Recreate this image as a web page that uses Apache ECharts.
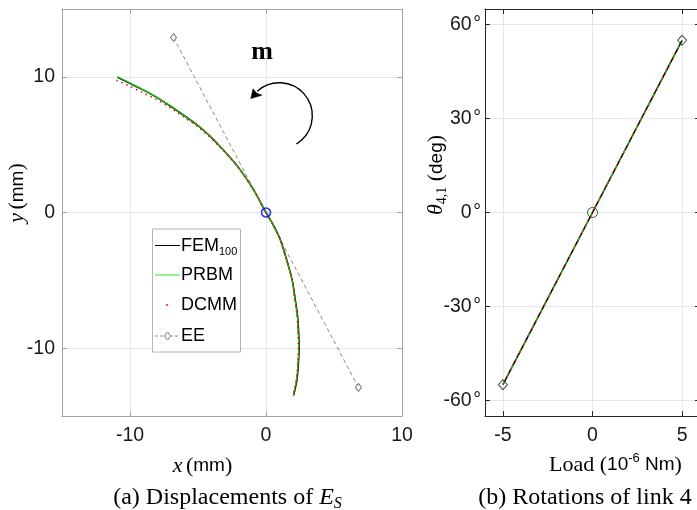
<!DOCTYPE html>
<html>
<head>
<meta charset="utf-8">
<script src="https://cdn.jsdelivr.net/npm/echarts@6/dist/echarts.min.js"></script>
<style>html,body{margin:0;padding:0;background:#fff;}#c{width:697px;height:510px;}</style>
</head>
<body>
<div id="c"></div>
<script>
// ---- Panel (a): displacements of E_S (mm) ----
const femX  = [-10.91, -10.0, -9.0, -8.0, -7.04, -6.0, -5.07, -4.2, -3.36, -2.6, -1.89, -0.91, 0, 0.55, 1.05, 1.66, 1.95, 2.15, 2.32, 2.40, 2.43, 2.40, 2.28, 2.03];
const femY  = [9.96, 9.52, 9.02, 8.47, 7.85, 7.13, 6.45, 5.70, 4.85, 4.02, 3.14, 1.67, 0, -0.95, -2.0, -3.97, -5.1, -6.42, -7.6, -8.87, -9.8, -10.83, -12.3, -13.48];
const prbmX = [-10.95, -10.0, -9.0, -8.0, -7.04, -6.0, -5.07, -4.2, -3.36, -2.6, -1.89, -0.91, 0, 0.55, 1.05, 1.65, 1.94, 2.13, 2.30, 2.37, 2.40, 2.37, 2.25, 2.0];
const prbmY = [10.02, 9.54, 9.04, 8.48, 7.86, 7.13, 6.45, 5.70, 4.85, 4.02, 3.14, 1.67, 0, -0.95, -2.0, -3.97, -5.1, -6.42, -7.6, -8.87, -9.8, -10.83, -12.3, -13.5];
const dcmmX = [-11.0, -10.0, -9.0, -8.0, -7.0, -6.0, -5.05, -4.2, -3.36, -2.6, -1.89, -0.91, 0, 0.55, 1.05, 1.66, 1.95, 2.12, 2.28, 2.36, 2.38, 2.36, 2.24, 1.98];
const dcmmY = [9.75, 9.30, 8.80, 8.30, 7.70, 7.00, 6.35, 5.62, 4.80, 3.98, 3.10, 1.65, 0, -0.95, -2.0, -3.97, -5.1, -6.42, -7.6, -8.87, -9.8, -10.83, -12.3, -13.55];
const eeX   = [-6.8, 6.8];
const eeY   = [12.9, -12.9];
const startX = [0];
const startY = [0];
const xTicksA = [-10, 0, 10];
const yTicksA = [-10, 0, 10];

// ---- Panel (b): rotations of link 4 ----
const loads     = [-5, 0, 5];
const femTheta  = [-55, 0, 55];
const prbmTheta = [-55, 0, 55];
const dcmmTheta = [-55, 0, 55];
const eeLoads   = [-5, 5];
const eeTheta   = [-55, 55];
const startLoad = [0];
const startTheta = [0];
const xTicksB = [-5, 0, 5];
const yTicksB = [-60, -30, 0, 30, 60];

const SANS = '"Liberation Sans", Arial, sans-serif';
const SERIF = '"Liberation Serif", "Times New Roman", serif';
const zip = (a, b) => a.map((v, i) => [v, b[i]]);

const leftBox = '#a3a3a3';
const rightBox = '#262626';
const gridColor = '#e6e6e6';

function xAx(grid, min, max, ticks, color, pos, labels) {
  return {
    type: 'value', gridIndex: grid, min: min, max: max, position: pos,
    axisLine: { show: true, onZero: false, lineStyle: { color: color, width: 1 } },
    axisTick: { show: true, inside: true, length: 5, customValues: ticks, lineStyle: { color: color } },
    axisLabel: { show: labels, customValues: ticks, fontSize: 19.5, fontFamily: SANS, color: '#1a1a1a', margin: 10 },
    splitLine: { show: labels, lineStyle: { color: gridColor, width: 1 } }
  };
}
function yAx(grid, min, max, ticks, color, pos, labels, fmt, margin) {
  return {
    type: 'value', gridIndex: grid, min: min, max: max, position: pos,
    axisLine: { show: true, onZero: false, lineStyle: { color: color, width: 1 } },
    axisTick: { show: true, inside: true, length: 5, customValues: ticks, lineStyle: { color: color } },
    axisLabel: { show: labels, customValues: ticks, fontSize: 19.5, fontFamily: SANS, color: '#1a1a1a', margin: margin, formatter: fmt },
    splitLine: { show: labels, lineStyle: { color: gridColor, width: 1 } }
  };
}

const serifRich = {
  i: { fontFamily: SERIF, fontStyle: 'italic', fontSize: 22, verticalAlign: 'middle', lineHeight: 26, color: '#000' },
  p: { fontFamily: SERIF, fontSize: 22, verticalAlign: 'middle', lineHeight: 26, color: '#000' },
  s: { fontFamily: SANS, fontSize: 19, verticalAlign: 'middle', lineHeight: 26, color: '#000' },
  sub: { fontFamily: SERIF, fontSize: 14, verticalAlign: 'bottom', lineHeight: 14, color: '#000' },
  sup: { fontFamily: SANS, fontSize: 13, verticalAlign: 'top', lineHeight: 13, color: '#000' }
};
const capRich = {
  p: { fontFamily: SERIF, fontSize: 24, verticalAlign: 'middle', lineHeight: 28, color: '#000' },
  i: { fontFamily: SERIF, fontStyle: 'italic', fontSize: 24, verticalAlign: 'middle', lineHeight: 28, color: '#000' },
  isub: { fontFamily: SERIF, fontStyle: 'italic', fontSize: 16, verticalAlign: 'bottom', lineHeight: 16, color: '#000' }
};

function txt(x, y, text, rich, rot) {
  return {
    type: 'text', x: x, y: y, rotation: rot || 0, z: 50,
    style: { text: text, rich: rich, align: 'center', verticalAlign: 'middle', textAlign: 'center', textVerticalAlign: 'middle', fill: '#000' }
  };
}

const legendRich = {
  n: { fontFamily: SANS, fontSize: 18, verticalAlign: 'middle', lineHeight: 22, color: '#000' },
  sub: { fontFamily: SANS, fontSize: 11, verticalAlign: 'bottom', lineHeight: 11, color: '#000' }
};
function legText(y, text) {
  return { type: 'text', x: 181, y: y, z: 101,
    style: { text: text, rich: legendRich, align: 'left', verticalAlign: 'middle', textAlign: 'left', textVerticalAlign: 'middle', fill: '#000' } };
}

const option = {
  animation: false,
  backgroundColor: '#fff',
  textStyle: { fontFamily: SANS },
  grid: [
    { left: 62, top: 9, width: 340, height: 407, outerBoundsMode: 'none', containLabel: false },
    { left: 485, top: 9, width: 215, height: 407, outerBoundsMode: 'none', containLabel: false }
  ],
  xAxis: [
    xAx(0, -15, 10, xTicksA, leftBox, 'bottom', true),
    xAx(0, -15, 10, xTicksA, leftBox, 'top', false),
    xAx(1, -6, 6, xTicksB, rightBox, 'bottom', true),
    xAx(1, -6, 6, xTicksB, rightBox, 'top', false)
  ],
  yAxis: [
    yAx(0, -15, 15, yTicksA, leftBox, 'left', true, '{value}', 7),
    yAx(0, -15, 15, yTicksA, leftBox, 'right', false, '{value}', 7),
    yAx(1, -65, 65, yTicksB, rightBox, 'left', true, v => v + '\u200a°', 4),
    yAx(1, -65, 65, yTicksB, rightBox, 'right', false, '{value}', 4)
  ],
  series: [
    // panel (a)
    { name: 'EE', type: 'line', xAxisIndex: 0, yAxisIndex: 0, data: zip(eeX, eeY),
      symbol: 'diamond', symbolSize: [6, 8], showSymbol: true,
      lineStyle: { color: '#8a8a8a', width: 1, type: [4, 3] },
      itemStyle: { color: '#fff', borderColor: '#7a7a7a', borderWidth: 1 }, z: 2 },
    { name: 'FEM100', type: 'line', xAxisIndex: 0, yAxisIndex: 0, data: zip(femX, femY),
      symbol: 'none', smooth: 0.3, lineStyle: { color: '#000', width: 1.6 }, z: 3 },
    { name: 'PRBM', type: 'line', xAxisIndex: 0, yAxisIndex: 0, data: zip(prbmX, prbmY),
      symbol: 'none', smooth: 0.3, lineStyle: { color: '#14c814', width: 1.2 }, z: 4 },
    { name: 'DCMM', type: 'line', xAxisIndex: 0, yAxisIndex: 0, data: zip(dcmmX, dcmmY),
      symbol: 'none', smooth: 0.3, lineStyle: { color: '#ff0000', width: 1.6, type: [1.4, 4] }, z: 5 },
    { name: 'start', type: 'scatter', xAxisIndex: 0, yAxisIndex: 0, data: zip(startX, startY),
      symbol: 'circle', symbolSize: 9, itemStyle: { color: 'rgba(0,0,0,0)', borderColor: '#0000ff', borderWidth: 1.6 }, z: 6 },
    // panel (b)
    { name: 'FEM100 (b)', type: 'line', xAxisIndex: 2, yAxisIndex: 2, data: zip(loads, femTheta),
      symbol: 'none', lineStyle: { color: '#000', width: 1.6 }, z: 3 },
    { name: 'PRBM (b)', type: 'line', xAxisIndex: 2, yAxisIndex: 2, data: zip(loads, prbmTheta),
      symbol: 'none', lineStyle: { color: '#00e000', width: 1.3, type: [4, 5] }, z: 4 },
    { name: 'DCMM (b)', type: 'line', xAxisIndex: 2, yAxisIndex: 2, data: zip(loads, dcmmTheta),
      symbol: 'none', lineStyle: { color: '#ff0000', width: 1.3, type: [1.4, 4] }, z: 5 },
    { name: 'EE (b)', type: 'scatter', xAxisIndex: 2, yAxisIndex: 2, data: zip(eeLoads, eeTheta),
      symbol: 'diamond', symbolSize: [9, 10], itemStyle: { color: 'rgba(0,0,0,0)', borderColor: '#222', borderWidth: 1 }, z: 6 },
    { name: 'start (b)', type: 'scatter', xAxisIndex: 2, yAxisIndex: 2, data: zip(startLoad, startTheta),
      symbol: 'circle', symbolSize: 10, itemStyle: { color: 'rgba(0,0,0,0)', borderColor: '#222', borderWidth: 1 }, z: 6 }
  ],
  graphic: [
    // axis titles
    txt(202.5, 466, '{i|x} {p|(}{s|mm}{p|)}', serifRich),
    txt(17.5, 193, '{i|y} {p|(}{s|mm}{p|)}', serifRich, Math.PI / 2),
    txt(615.5, 465, '{p|Load (}{s|10}{sup|-6}{s| Nm}{p|)}', serifRich),
    txt(436.5, 175, '{i|θ}{sub|4,1}{p| (}{s|deg}{p|)}', serifRich, Math.PI / 2),
    // captions
    txt(227.5, 498, '{p|(a) Displacements of }{i|E}{isub|S}', capRich),
    txt(585, 498, '{p|(b) Rotations of link 4}', capRich),
    // moment annotation
    { type: 'text', x: 262, y: 52, z: 50,
      style: { text: 'm', font: 'bold 26px ' + SERIF, fontFamily: SERIF, fontWeight: 'bold', fontSize: 26,
               align: 'center', verticalAlign: 'middle', textAlign: 'center', textVerticalAlign: 'middle', fill: '#000' } },
    { type: 'arc', z: 50,
      shape: { cx: 279.3, cy: 115.7, r: 33, startAngle: -132 * Math.PI / 180, endAngle: 59 * Math.PI / 180, clockwise: true },
      style: { stroke: '#000', lineWidth: 1.4, fill: null } },
    { type: 'polygon', z: 50,
      shape: { points: [[250.8, 98.6], [253.0, 88.8], [256.5, 93.0], [262.0, 95.2]] },
      style: { fill: '#000', stroke: '#000', lineWidth: 0.5 } },
    // legend
    { type: 'rect', z: 100, shape: { x: 152.5, y: 229, width: 88, height: 123 },
      style: { fill: '#fff', stroke: '#b4b4b4', lineWidth: 1 } },
    { type: 'line', z: 101, shape: { x1: 155, y1: 245.5, x2: 180, y2: 245.5 }, style: { stroke: '#000', lineWidth: 1 } },
    legText(246, '{n|FEM}{sub|100}'),
    { type: 'line', z: 101, shape: { x1: 155, y1: 275, x2: 180, y2: 275 }, style: { stroke: '#22ee22', lineWidth: 1 } },
    legText(275.5, '{n|PRBM}'),
    { type: 'circle', z: 101, shape: { cx: 167, cy: 305, r: 0.9 }, style: { fill: '#ff0000' } },
    legText(305.5, '{n|DCMM}'),
    { type: 'line', z: 101, shape: { x1: 155, y1: 336, x2: 180, y2: 336 }, style: { stroke: '#8a8a8a', lineWidth: 1, lineDash: [3, 2] } },
    { type: 'polygon', z: 102, shape: { points: [[167.5, 332], [170.5, 336], [167.5, 340], [164.5, 336]] },
      style: { fill: '#fff', stroke: '#7a7a7a', lineWidth: 1 } },
    legText(336.5, '{n|EE}')
  ]
};

const chart = echarts.init(document.getElementById('c'), null, { renderer: 'canvas' });
chart.setOption(option);
</script>
</body>
</html>
